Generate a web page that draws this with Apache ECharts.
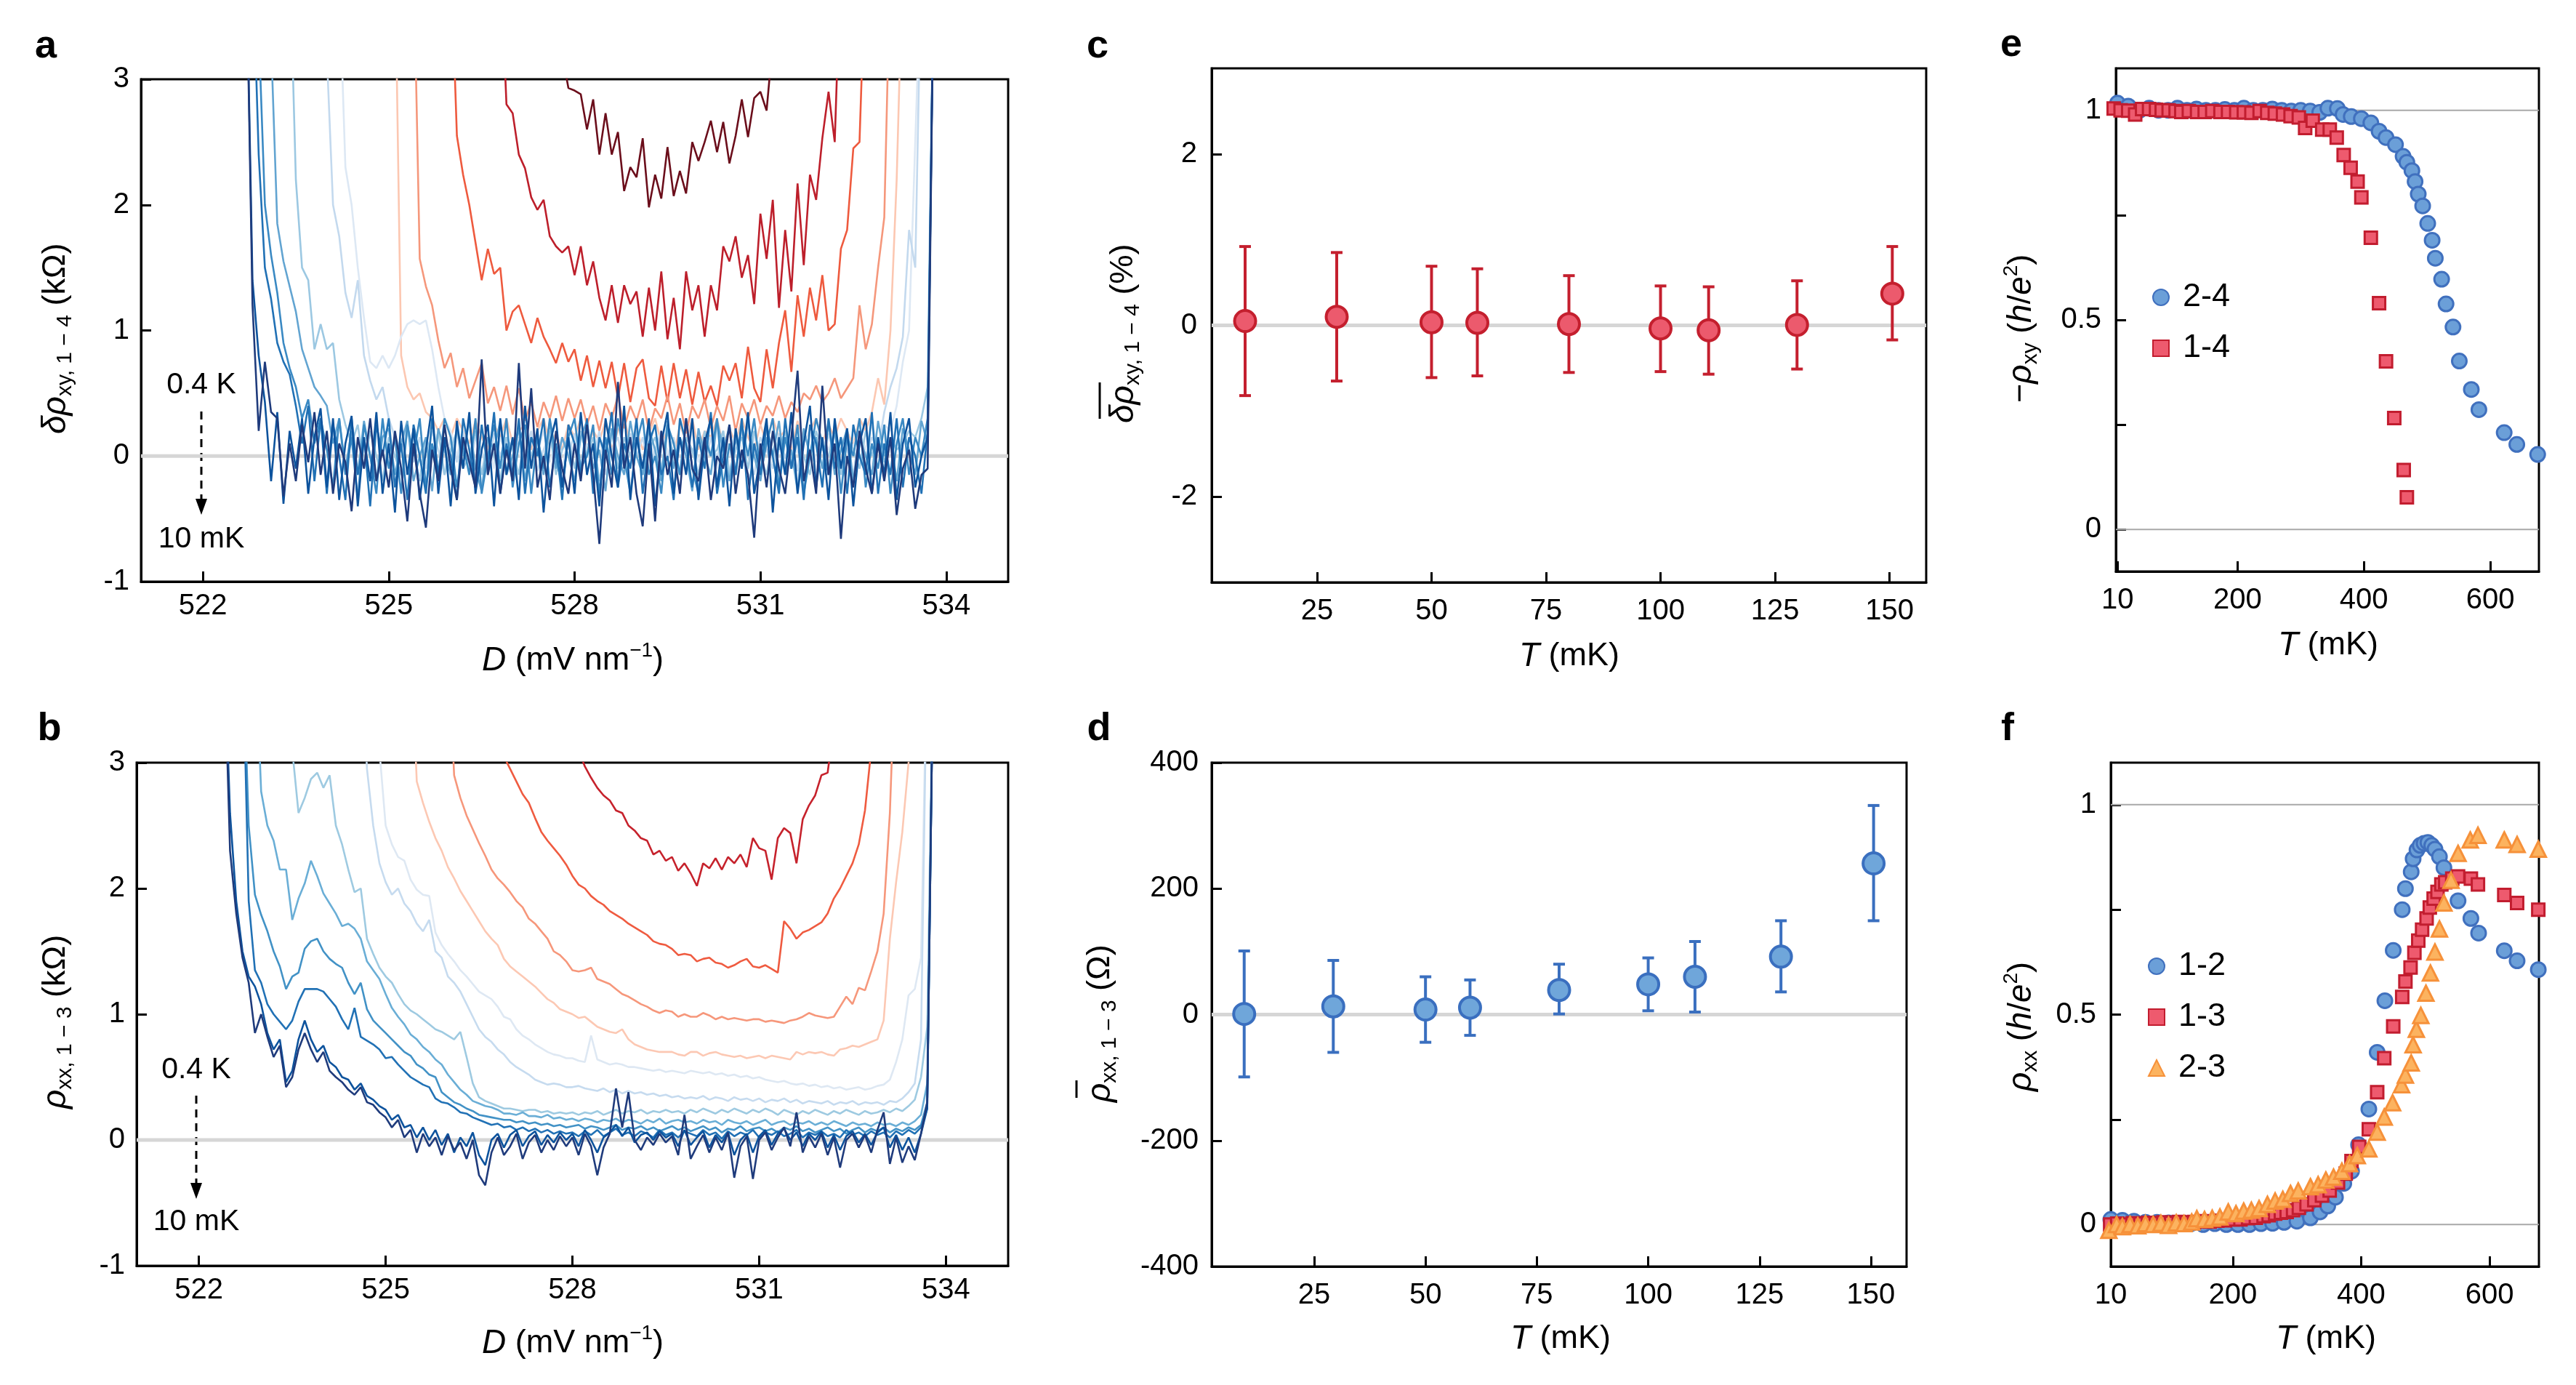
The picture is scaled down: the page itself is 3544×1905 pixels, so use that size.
<!DOCTYPE html>
<html>
<head>
<meta charset="utf-8">
<title>Transport vs D and T</title>
<script src="https://cdn.jsdelivr.net/npm/echarts@6/dist/echarts.min.js"></script>
<style>
html, body { margin: 0; padding: 0; background: #fff; }
#chart { width: 3544px; height: 1905px; }
</style>
</head>
<body>
<div id="chart"></div>
<script>
// displacement field grid (mV/nm), shared by panels a and b
const dGrid = [
  522.0,522.1,522.2,522.3,522.4,522.5,522.6,522.7,522.8,522.9,
  523.0,523.1,523.2,523.3,523.4,523.5,523.6,523.7,523.8,523.9,
  524.0,524.1,524.2,524.3,524.4,524.5,524.6,524.7,524.8,524.9,
  525.0,525.1,525.2,525.3,525.4,525.5,525.6,525.7,525.8,525.9,
  526.0,526.1,526.2,526.3,526.4,526.5,526.6,526.7,526.8,526.9,
  527.0,527.1,527.2,527.3,527.4,527.5,527.6,527.7,527.8,527.9,
  528.0,528.1,528.2,528.3,528.4,528.5,528.6,528.7,528.8,528.9,
  529.0,529.1,529.2,529.3,529.4,529.5,529.6,529.7,529.8,529.9,
  530.0,530.1,530.2,530.3,530.4,530.5,530.6,530.7,530.8,530.9,
  531.0,531.1,531.2,531.3,531.4,531.5,531.6,531.7,531.8,531.9,
  532.0,532.1,532.2,532.3,532.4,532.5,532.6,532.7,532.8,532.9,
  533.0,533.1,533.2,533.3,533.4,533.5,533.6,533.7,533.8,533.9,
  534.0
];

// ---- panel a: delta rho_xy (kOhm), values above 3 are off scale ----
const aMaroon = [
  4,4,4,4,4,4,4,4,4,4, 4,4,4,4,4,4,4,4,4,4, 4,4,4,4,4,4,4,4,4,4,
  4,4,4,4,4,4,4,4,4,4, 4,4,4,4,4,4,4,4,4,4,
  4,4,4,4,4,4,4,4,3.2,2.93,
  2.91,2.88,2.6,2.84,2.4,2.73,2.4,2.58,2.11,2.3,
  2.22,2.53,1.98,2.24,2.05,2.46,2.07,2.27,2.09,2.5,
  2.35,2.5,2.67,2.42,2.66,2.33,2.55,2.84,2.54,2.85,
  2.9,2.75,3.3,4,4,4,4,4,4,4,
  4,4,4,4,4,4,4,4,4,4, 4,4,4,4,4,4,4,4,4,4, 4
];
const aCrimson = [
  4,4,4,4,4,4,4,4,4,4, 4,4,4,4,4,4,4,4,4,4, 4,4,4,4,4,4,4,4,4,4,
  4,4,4,4,4,4,4,4,4,4,
  4,4,4,4,4,4,4,4,4,2.8,
  2.73,2.4,2.29,2.06,1.96,2.04,1.75,1.67,1.62,1.67,
  1.44,1.67,1.36,1.55,1.26,1.08,1.36,1.06,1.36,1.21,
  1.31,0.95,1.34,1.0,1.47,0.93,1.26,0.85,1.47,1.16,
  1.36,0.95,1.36,1.16,1.67,1.55,1.75,1.42,1.6,1.21,
  1.93,1.57,2.04,1.18,1.8,1.31,2.17,1.52,2.24,2.04,
  2.53,2.9,2.5,4,4,4,4,4,4,4,
  4,4,4,4,4,4,4,4,4,4, 4
];
const aOrange = [
  4,4,4,4,4,4,4,4,4,4, 4,4,4,4,4,4,4,4,4,4, 4,4,4,4,4,4,4,4,4,4,
  4,4,4,4,4,4,4,4,4,4,
  4,2.55,2.24,2.0,1.7,1.4,1.65,1.45,1.5,1.0,
  1.15,1.2,1.05,0.9,1.1,0.95,0.85,0.74,0.9,0.75,
  0.85,0.6,0.8,0.55,0.76,0.54,0.75,0.46,0.74,0.43,
  0.7,0.77,0.46,0.4,0.72,0.43,0.74,0.46,0.69,0.41,
  0.67,0.43,0.56,0.4,0.72,0.6,0.74,0.46,0.87,0.54,
  0.43,0.85,0.54,0.9,1.16,0.67,1.28,0.95,1.34,1.08,
  1.44,1.0,1.05,1.65,1.8,2.45,2.5,4,4,4,
  4,4,4,4,4,4,4,4,4,4, 4
];
const aSalmon = [
  4,4,4,4,4,4,4,4,4,4, 4,4,4,4,4,4,4,4,4,4, 4,4,4,4,4,4,4,4,4,4,
  4,4,4,4,4,1.57,1.35,1.2,0.92,0.7,
  0.82,0.55,0.7,0.46,0.6,0.74,0.42,0.55,0.36,0.56,
  0.33,0.54,0.28,0.43,0.23,0.43,0.3,0.48,0.28,0.46,
  0.3,0.45,0.25,0.4,0.2,0.42,0.3,0.48,0.22,0.4,
  0.28,0.45,0.2,0.38,0.3,0.48,0.25,0.42,0.18,0.4,
  0.3,0.45,0.22,0.4,0.28,0.48,0.2,0.42,0.3,0.45,
  0.25,0.4,0.32,0.48,0.3,0.43,0.35,0.5,0.45,0.56,
  0.43,0.5,0.62,0.46,0.54,0.62,1.2,0.85,1.05,1.5,
  1.9,4,4,4,4,4,4,4,4,4, 4
];
const aPink = [
  4,4,4,4,4,4,4,4,4,4, 4,4,4,4,4,4,4,4,4,4, 4,4,4,4,4,4,4,4,4,4,
  4,4,0.8,0.55,0.45,0.5,0.35,0.3,0.2,0.3,
  0.15,0.3,0.2,0.1,0.28,0.15,0.05,0.25,0.15,0.3,
  0.1,0.2,0.25,0.05,0.2,0.3,0.1,0.18,0.05,0.25,
  0.15,0.3,0.05,0.2,0.12,0.28,0.05,0.2,0.3,0.1,
  0.22,0.05,0.18,0.3,0.1,0.2,0.0,0.25,0.12,0.3,
  0.05,0.2,0.15,0.3,0.08,0.22,0.1,0.3,0.15,0.05,
  0.25,0.1,0.3,0.15,0.2,0.05,0.28,0.12,0.2,0.3,
  0.1,0.25,0.15,0.3,0.2,0.08,0.3,0.2,0.35,0.62,
  0.41,1.0,2.2,4,4,4,4,4,4,4, 4
];
const aBlue8 = [
  4,4,4,4,4,4,4,4,4,4, 4,4,4,4,4,4,4,4,4,4,
  4,4,3.8,2.3,2.0,1.5,1.1,0.75,0.7,0.8,
  0.7,0.8,0.95,1.05,1.08,1.05,1.08,0.85,0.55,0.3,
  0.2,0.0,0.2,-0.05,0.15,0.05,0.2,-0.1,0.15,0.0,
  0.15,0.05,-0.1,0.15,0.02,0.2,-0.05,0.1,-0.1,0.15,
  0.0,0.15,0.05,-0.12,0.15,0.02,0.2,-0.05,0.1,0.05,
  0.2,-0.1,0.15,0.0,0.15,0.05,-0.1,0.15,0.02,0.2,
  -0.05,0.1,0.15,-0.1,0.15,0.0,0.2,0.05,-0.12,0.15,
  0.05,0.2,-0.05,0.15,-0.1,0.15,0.02,0.12,0.2,-0.05,
  0.15,0.05,0.2,-0.1,0.15,0.08,0.2,0.05,0.25,0.1,
  0.25,0.2,0.4,0.75,1.0,2.5,4,4,4,4, 4
];
const aBlue7 = [
  4,4,4,4,4,4,4,4,4,4, 4,4,4,4,4,4,4,4,4,4,
  3.2,2.0,1.75,1.3,1.1,1.4,0.8,0.6,0.45,0.55,
  0.3,0.15,0.05,0.25,-0.05,0.15,-0.1,0.2,0.05,-0.15,
  0.15,-0.05,0.2,-0.1,0.15,0.05,-0.15,0.18,0.0,0.15,
  -0.1,0.15,0.02,0.2,-0.12,0.05,0.18,-0.1,0.15,0.0,
  0.18,-0.1,0.1,-0.02,0.2,-0.15,0.05,0.15,-0.1,0.18,
  0.0,0.15,-0.12,0.05,0.2,-0.02,0.15,-0.15,0.1,0.02,
  0.18,-0.1,0.15,-0.02,0.2,-0.12,0.05,0.15,0.0,-0.15,
  0.15,0.05,-0.1,0.18,-0.02,0.15,-0.12,0.2,0.02,0.15,
  -0.1,0.18,0.0,0.15,0.05,-0.15,0.2,0.0,0.15,0.05,
  0.35,0.55,0.7,0.95,1.8,1.5,4,4,4,4, 4
];
const aBlue6 = [
  4,4,4,4,4,4,4,4,4,4,
  4,4,4,4,4,2.2,1.5,1.4,0.85,1.05,
  0.85,0.9,0.45,0.25,0.1,0.25,-0.1,0.2,0.0,-0.2,
  0.15,0.0,-0.15,0.2,0.05,-0.2,0.15,0.0,0.2,-0.15,
  0.05,0.2,-0.1,0.0,0.2,-0.15,0.15,0.0,-0.2,0.15,
  0.05,-0.15,0.2,0.0,0.15,-0.1,0.2,-0.15,0.05,0.15,
  -0.1,0.2,0.0,0.15,-0.2,0.05,0.2,-0.1,0.15,0.0,
  0.2,-0.15,0.05,0.15,-0.1,0.2,0.0,-0.15,0.15,0.05,
  -0.15,0.2,0.0,0.05,0.2,-0.15,0.05,0.15,-0.1,0.2,
  0.0,-0.15,0.15,0.05,0.2,-0.1,0.15,0.0,-0.15,0.2,
  0.05,0.0,0.2,-0.15,0.15,0.05,-0.1,0.2,0.0,0.15,
  -0.05,0.15,0.05,0.1,0.2,0.15,0.3,0.55,4,4, 4
];
const aBlue5 = [
  4,4,4,4,4,4,4,4,4,4,
  4,3.3,1.85,1.55,1.35,1.15,0.85,0.7,0.55,0.48,
  0.4,0.1,0.3,-0.1,0.2,-0.15,0.28,0.0,-0.2,0.15,
  0.22,-0.15,0.1,0.28,-0.2,0.0,0.15,-0.28,0.22,0.05,
  -0.15,0.22,0.0,0.28,-0.1,-0.28,0.15,0.05,0.28,-0.15,
  0.0,0.22,-0.2,0.15,0.05,-0.15,0.28,-0.1,0.15,0.0,
  -0.2,0.15,0.28,-0.1,0.05,-0.28,0.22,0.0,-0.15,0.28,
  0.0,-0.15,0.22,0.05,-0.2,0.28,-0.1,0.15,0.0,-0.28,
  0.22,0.0,-0.15,0.28,0.05,-0.2,0.15,-0.1,0.28,0.0,
  -0.2,0.15,0.0,0.28,-0.15,0.05,-0.28,0.22,0.0,0.15,
  -0.1,0.28,-0.15,0.05,0.22,-0.2,0.15,0.0,-0.15,0.28,
  0.0,0.15,-0.2,0.22,0.05,-0.15,0.28,0.1,4,4, 4
];
const aBlue4 = [
  4,4,4,4,4,4,4,4,4,3.4,
  2.0,1.6,1.3,0.9,0.7,0.55,0.3,0.45,0.1,0.3,
  0.05,-0.25,0.3,-0.15,0.15,-0.35,0.25,0.0,-0.3,0.3,
  -0.1,0.15,-0.3,0.25,0.0,0.3,-0.25,0.1,-0.15,0.3,
  0.15,-0.25,0.1,-0.15,0.3,-0.3,0.0,0.25,-0.1,0.3,
  -0.25,0.1,0.25,-0.3,0.15,-0.1,0.3,0.0,-0.25,0.15,
  0.3,-0.1,0.0,0.25,-0.3,0.15,-0.15,0.3,0.0,-0.3,
  0.1,0.3,-0.15,0.0,-0.3,0.25,0.1,-0.15,0.3,-0.1,
  -0.3,0.15,0.0,0.3,-0.25,0.1,-0.15,0.25,0.0,0.3,
  -0.15,0.1,0.3,-0.25,0.15,-0.1,0.25,-0.3,0.0,0.3,
  0.1,-0.15,0.25,-0.3,0.15,0.0,0.3,-0.25,0.1,-0.1,
  0.25,-0.3,0.1,0.3,-0.15,0.15,0.0,0.3,4,4, 4
];
const aBlue3 = [
  4,4,4,4,4,4,4,4,4,2.4,
  1.5,1.25,0.9,0.75,0.65,0.4,0.1,0.4,-0.2,0.3,
  -0.3,0.25,0.0,-0.35,0.3,-0.15,0.15,-0.4,0.25,0.0,
  0.3,-0.25,0.1,-0.35,0.25,0.0,-0.3,0.3,-0.15,0.15,
  0.0,-0.35,0.3,0.05,-0.25,0.25,-0.1,0.35,-0.3,0.1,
  -0.15,0.3,-0.3,0.15,0.0,0.3,-0.25,0.1,-0.35,0.25,
  0.1,-0.15,0.3,-0.3,0.15,0.0,0.35,-0.25,0.1,-0.1,
  0.3,-0.3,0.1,0.25,-0.15,0.0,-0.35,0.3,0.1,-0.25,
  0.15,-0.1,0.35,-0.3,0.0,0.25,-0.15,0.3,-0.35,0.1,
  -0.15,0.25,0.0,-0.3,0.3,-0.1,0.15,-0.35,0.25,0.1,
  -0.25,0.3,-0.1,0.15,-0.3,0.25,0.0,-0.15,0.35,-0.3,
  0.1,-0.15,0.3,-0.25,0.15,0.0,-0.3,0.2,4,4, 4
];
const aBlue2 = [
  4,4,4,4,4,4,4,4,1.4,0.8,
  0.43,-0.2,0.35,-0.38,0.2,-0.1,0.3,-0.3,0.15,0.38,
  -0.25,0.3,-0.35,0.1,0.32,-0.4,0.15,-0.2,0.35,-0.3,
  0.1,-0.45,0.28,-0.15,0.22,-0.35,0.05,0.4,-0.3,0.15,
  -0.4,0.28,-0.1,0.35,-0.3,0.05,0.25,-0.4,0.3,-0.15,
  0.15,-0.35,0.4,-0.1,0.22,-0.45,0.1,0.3,-0.25,0.15,
  -0.3,0.35,-0.15,0.1,-0.4,0.3,0.0,-0.25,0.4,-0.35,
  0.15,-0.1,0.3,-0.4,0.1,0.35,-0.3,0.15,-0.15,0.3,
  -0.35,0.1,0.3,-0.25,0.15,-0.4,0.22,-0.1,0.35,-0.3,
  0.0,0.3,-0.45,0.15,-0.15,0.35,-0.3,0.1,0.4,-0.25,
  0.15,-0.35,0.3,-0.1,0.22,-0.4,0.1,0.3,-0.3,0.15,
  -0.15,0.35,-0.35,0.1,0.3,-0.25,0.0,0.15,4,4, 4
];
const aNavy = [
  4,4,4,4,4,4,4,4,1.2,0.2,
  0.75,0.35,0.3,-0.32,0.1,-0.2,0.25,-0.05,0.35,-0.15,
  0.2,-0.3,0.1,-0.05,-0.44,0.15,-0.1,0.3,-0.2,0.05,
  -0.25,0.2,-0.1,-0.52,0.1,-0.3,-0.57,0.05,-0.2,0.25,
  -0.1,-0.35,0.15,-0.05,-0.25,0.77,-0.15,0.1,-0.3,0.05,
  -0.2,0.74,-0.1,0.54,-0.25,0.0,-0.35,0.2,-0.1,-0.3,
  0.1,-0.2,0.25,-0.15,-0.7,0.05,-0.25,0.59,-0.1,0.15,
  -0.3,-0.56,0.1,-0.52,0.2,-0.15,0.05,-0.3,0.3,-0.1,
  -0.2,0.15,-0.35,0.0,-0.1,0.25,-0.3,0.05,-0.15,-0.65,
  0.1,-0.25,0.2,-0.1,-0.3,0.15,0.68,-0.2,0.05,-0.3,
  0.56,-0.15,0.1,-0.66,0.0,-0.25,0.2,-0.1,-0.3,0.1,
  -0.2,0.15,-0.47,-0.1,0.05,-0.42,-0.15,-0.1,4,4, 4
];

// ---- panel b: rho_xx (kOhm) ----
const bCrimson = [
  4,4,4,4,4,4,4,4,4,4, 4,4,4,4,4,4,4,4,4,4, 4,4,4,4,4,4,4,4,4,4,
  4,4,4,4,4,4,4,4,4,4, 4,4,4,4,4,4,4,4,4,4, 4,4,4,4,4,4,4,4,4,4,
  4,3.1,2.97,2.88,2.8,2.74,2.7,2.62,2.6,2.5,
  2.46,2.4,2.38,2.27,2.3,2.22,2.25,2.14,2.2,2.12,
  2.02,2.2,2.16,2.24,2.15,2.25,2.2,2.27,2.17,2.4,
  2.32,2.3,2.07,2.4,2.48,2.44,2.2,2.55,2.66,2.74,
  2.9,2.92,3.3,4,4,4,4,4,4,4,
  4,4,4,4,4,4,4,4,4,4, 4
];
const bOrange = [
  4,4,4,4,4,4,4,4,4,4, 4,4,4,4,4,4,4,4,4,4, 4,4,4,4,4,4,4,4,4,4,
  4,4,4,4,4,4,4,4,4,4,
  4,4,4,4,4,4,4,4,4,3.05,
  2.95,2.85,2.75,2.68,2.56,2.45,2.38,2.32,2.26,2.19,
  2.1,2.03,2.0,1.94,1.9,1.87,1.82,1.79,1.76,1.72,
  1.69,1.66,1.63,1.58,1.56,1.55,1.52,1.47,1.48,1.47,
  1.42,1.44,1.45,1.41,1.4,1.37,1.39,1.42,1.44,1.38,
  1.37,1.39,1.36,1.33,1.74,1.68,1.6,1.65,1.67,1.7,
  1.73,1.8,1.92,2.0,2.1,2.2,2.35,2.62,3.1,4,
  4,4,4,4,4,4,4,4,4,4, 4
];
const bSalmon = [
  4,4,4,4,4,4,4,4,4,4, 4,4,4,4,4,4,4,4,4,4, 4,4,4,4,4,4,4,4,4,4,
  4,4,4,4,4,4,4,4,4,4,
  4,2.9,2.72,2.58,2.47,2.36,2.26,2.15,2.08,2.03,
  1.97,1.9,1.85,1.76,1.72,1.66,1.6,1.5,1.47,1.42,
  1.35,1.34,1.35,1.37,1.28,1.26,1.24,1.2,1.16,1.14,
  1.11,1.08,1.06,1.03,1.01,1.03,1.02,0.98,1.0,0.98,
  0.98,1.01,0.99,0.96,0.98,0.96,0.97,0.96,0.95,0.96,
  0.96,0.94,0.95,0.94,0.93,0.95,0.96,0.98,1.01,0.99,
  0.98,0.97,0.98,1.06,1.14,1.08,1.21,1.19,1.34,1.5,
  1.8,2.6,4,4,4,4,4,4,4,4, 4
];
const bPink = [
  4,4,4,4,4,4,4,4,4,4, 4,4,4,4,4,4,4,4,4,4, 4,4,4,4,4,4,4,4,4,4,
  4,4,4,4,4,2.85,2.68,2.53,2.4,2.3,
  2.17,2.08,1.98,1.9,1.82,1.74,1.66,1.6,1.55,1.44,
  1.38,1.34,1.3,1.26,1.22,1.17,1.12,1.09,1.04,1.02,
  1.0,0.97,0.98,0.94,0.9,0.88,0.86,0.85,0.88,0.8,
  0.76,0.74,0.72,0.71,0.7,0.7,0.7,0.68,0.67,0.7,
  0.7,0.67,0.69,0.7,0.68,0.67,0.66,0.67,0.65,0.66,
  0.67,0.65,0.67,0.66,0.65,0.64,0.7,0.68,0.7,0.69,
  0.7,0.68,0.67,0.72,0.73,0.75,0.74,0.76,0.78,0.8,
  0.95,1.6,2.05,2.45,3.0,4,4,4,4,4, 4
];
const bBlue8 = [
  4,4,4,4,4,4,4,4,4,4, 4,4,4,4,4,4,4,4,4,4,
  4,4,4,4,4,4,4,4,4,3.1,
  2.5,2.35,2.25,2.22,2.07,1.99,1.95,1.94,1.65,1.55,
  1.48,1.42,1.35,1.3,1.24,1.18,1.15,1.12,1.06,0.98,
  0.96,0.88,0.83,0.8,0.76,0.73,0.7,0.68,0.67,0.65,
  0.65,0.63,0.62,0.83,0.64,0.62,0.6,0.61,0.6,0.58,
  0.58,0.57,0.56,0.55,0.56,0.54,0.55,0.54,0.53,0.55,
  0.54,0.53,0.54,0.52,0.53,0.51,0.52,0.5,0.51,0.49,
  0.5,0.48,0.47,0.46,0.47,0.45,0.44,0.45,0.43,0.44,
  0.42,0.43,0.41,0.42,0.4,0.41,0.42,0.4,0.41,0.43,
  0.44,0.48,0.62,0.8,1.15,1.2,1.45,4,4,4, 4
];
const bBlue7 = [
  4,4,4,4,4,4,4,4,4,4, 4,4,4,4,4,4,4,4,4,4,
  4,4,4,4,4,4,4,2.95,2.5,2.2,
  2.05,1.95,2.0,1.88,1.82,1.72,1.66,1.75,1.5,1.45,
  1.3,1.25,1.18,1.08,0.98,0.88,0.82,0.78,0.72,0.68,
  0.62,0.58,0.55,0.52,0.48,0.46,0.44,0.45,0.44,0.42,
  0.42,0.43,0.41,0.4,0.39,0.41,0.38,0.4,0.37,0.39,
  0.37,0.38,0.36,0.37,0.35,0.36,0.34,0.35,0.33,0.34,
  0.33,0.35,0.32,0.34,0.33,0.31,0.34,0.32,0.33,0.31,
  0.33,0.3,0.32,0.31,0.33,0.3,0.32,0.29,0.31,0.3,
  0.29,0.31,0.28,0.3,0.29,0.31,0.28,0.3,0.29,0.3,
  0.28,0.31,0.3,0.33,0.38,0.45,0.8,4,4,4, 4
];
const bBlue6 = [
  4,4,4,4,4,4,4,4,4,4,
  4,4,4,4,4,3.1,2.6,2.72,2.87,2.92,
  2.8,2.9,2.5,2.35,2.15,1.97,2.0,1.6,1.48,1.37,
  1.3,1.25,1.16,1.08,1.03,1.0,0.96,0.92,0.88,0.86,
  0.83,0.8,0.86,0.66,0.45,0.34,0.31,0.29,0.27,0.25,
  0.25,0.24,0.23,0.24,0.24,0.22,0.23,0.21,0.22,0.21,
  0.22,0.2,0.22,0.21,0.23,0.2,0.22,0.24,0.21,0.23,
  0.22,0.24,0.21,0.23,0.22,0.24,0.22,0.23,0.21,0.24,
  0.22,0.25,0.23,0.21,0.24,0.22,0.25,0.23,0.21,0.24,
  0.22,0.25,0.23,0.2,0.24,0.22,0.2,0.23,0.21,0.24,
  0.22,0.2,0.23,0.21,0.24,0.22,0.2,0.23,0.21,0.22,
  0.24,0.22,0.25,0.23,0.27,0.32,0.5,0.9,4,4, 4
];
const bBlue5 = [
  4,4,4,4,4,4,4,4,4,4,
  2.77,2.5,2.38,2.15,2.15,1.75,1.92,2.04,2.22,2.1,
  1.96,1.88,1.8,1.7,1.72,1.68,1.6,1.42,1.35,1.28,
  1.16,1.05,0.98,0.92,0.84,0.8,0.74,0.7,0.64,0.6,
  0.52,0.46,0.4,0.36,0.31,0.29,0.27,0.26,0.24,0.21,
  0.21,0.2,0.22,0.19,0.19,0.18,0.2,0.17,0.18,0.16,
  0.17,0.15,0.17,0.16,0.14,0.16,0.15,0.17,0.14,0.16,
  0.15,0.13,0.16,0.14,0.17,0.13,0.15,0.16,0.14,0.15,
  0.13,0.16,0.14,0.15,0.12,0.16,0.14,0.13,0.15,0.12,
  0.14,0.16,0.12,0.14,0.15,0.12,0.14,0.13,0.15,0.12,
  0.14,0.12,0.15,0.13,0.11,0.14,0.12,0.13,0.11,0.14,
  0.12,0.13,0.11,0.14,0.12,0.15,0.2,0.45,4,4, 4
];
const bBlue4 = [
  4,4,4,4,4,4,4,4,2.5,1.95,
  1.79,1.66,1.5,1.38,1.2,1.3,1.33,1.52,1.58,1.6,
  1.5,1.44,1.4,1.37,1.25,1.16,1.25,1.04,0.95,0.9,
  0.85,0.8,0.75,0.7,0.67,0.6,0.57,0.52,0.5,0.38,
  0.34,0.3,0.28,0.25,0.23,0.2,0.19,0.18,0.17,0.16,
  0.16,0.14,0.15,0.13,0.14,0.12,0.13,0.11,0.12,0.1,
  0.11,0.12,0.09,0.11,0.1,0.08,0.1,0.12,0.08,0.1,
  0.09,0.11,0.08,0.1,0.07,0.09,0.11,0.08,0.1,0.07,
  0.09,0.11,0.08,0.1,0.06,0.09,0.08,0.11,0.07,0.09,
  0.1,0.07,0.09,0.06,0.1,0.08,0.11,0.07,0.09,0.06,
  0.08,0.1,0.07,0.09,0.05,0.08,0.1,0.06,0.09,0.07,
  0.1,0.06,0.09,0.07,0.1,0.08,0.12,0.3,4,4, 4
];
const bBlue3 = [
  4,4,4,4,4,4,4,4,1.9,1.35,
  1.25,1.08,1.0,0.94,0.88,0.95,1.1,1.2,1.2,1.2,
  1.18,1.12,1.06,0.96,0.88,1.05,0.82,0.79,0.76,0.72,
  0.65,0.66,0.6,0.55,0.5,0.47,0.44,0.42,0.33,0.3,
  0.29,0.26,0.22,0.21,0.18,0.16,0.14,0.12,0.13,0.1,
  0.11,0.08,0.1,0.07,0.09,0.06,0.08,0.05,0.07,0.05,
  0.06,0.03,0.07,0.04,0.08,0.03,0.06,0.09,0.04,0.06,
  0.03,0.07,0.05,0.02,0.08,0.04,0.06,0.02,0.07,0.05,
  0.03,0.08,0.04,0.06,0.01,0.07,0.03,0.06,0.04,0.08,
  0.02,0.06,0.04,0.07,0.03,0.05,0.08,0.02,0.06,0.04,
  0.07,0.03,0.05,0.02,0.08,0.04,0.06,0.03,0.07,0.04,
  0.06,0.02,0.07,0.04,0.08,0.05,0.1,0.25,4,4, 4
];
const bBlue2 = [
  4,4,4,4,4,2.6,1.9,1.5,1.3,1.22,
  1.08,0.85,0.72,0.8,0.46,0.55,0.8,0.95,0.8,0.7,
  0.75,0.62,0.58,0.5,0.48,0.4,0.45,0.35,0.32,0.27,
  0.24,0.16,0.2,0.1,0.12,0.02,0.1,0.0,0.08,-0.04,
  0.05,-0.1,0.02,-0.05,0.06,-0.12,-0.2,0.0,0.05,-0.06,
  0.04,0.08,-0.05,0.03,0.07,-0.04,0.04,-0.02,0.06,0.0,
  0.05,-0.05,0.08,0.0,-0.1,0.02,0.06,0.12,0.03,0.1,
  -0.02,0.04,0.06,0.0,0.07,0.02,0.05,-0.05,0.08,-0.04,
  0.02,0.07,-0.06,0.04,-0.02,0.06,-0.12,0.0,0.05,-0.1,
  0.03,0.08,-0.04,0.05,0.09,0.0,0.06,-0.05,0.05,0.0,
  0.07,-0.06,0.04,-0.08,0.03,0.07,-0.02,0.05,-0.04,0.06,
  0.1,-0.06,0.04,-0.08,0.02,-0.1,0.05,0.25,4,4, 4
];
const bNavy = [
  4,4,4,4,4,2.3,1.8,1.45,1.25,0.85,
  1.0,0.82,0.66,0.75,0.42,0.5,0.72,0.85,0.72,0.62,
  0.7,0.55,0.5,0.46,0.4,0.36,0.42,0.3,0.28,0.22,
  0.18,0.1,0.16,0.02,0.08,-0.1,0.05,-0.05,0.02,-0.12,
  0.03,-0.08,-0.02,-0.15,0.0,-0.28,-0.36,-0.1,0.02,-0.12,
  -0.05,0.05,-0.15,-0.02,0.04,-0.1,0.0,-0.08,0.03,-0.05,
  0.02,-0.12,0.05,-0.05,-0.28,-0.06,0.05,0.41,0.1,0.38,
  0.0,-0.08,0.02,-0.04,0.05,-0.02,0.03,-0.12,0.2,-0.15,
  -0.05,0.04,-0.1,0.02,-0.08,0.06,-0.3,-0.05,0.03,-0.31,
  0.0,0.06,-0.08,0.02,0.1,-0.05,0.22,-0.1,0.03,-0.06,
  0.05,-0.12,0.02,-0.22,0.0,0.05,-0.06,0.04,-0.1,0.08,
  0.22,-0.19,0.02,-0.18,-0.05,-0.16,0.05,0.3,4,4, 4
];

// ---- panels c, d: averages vs temperature ----
const cdTemps = [9.3, 29.3, 50, 60, 80, 100, 110.5, 129.8, 150.6];
const cMean = [0.05, 0.10, 0.036, 0.03, 0.015, -0.036, -0.057, 0.005, 0.37];
const cLow  = [-0.82, -0.65, -0.61, -0.59, -0.55, -0.54, -0.57, -0.51, -0.17];
const cHigh = [0.92, 0.85, 0.69, 0.66, 0.58, 0.46, 0.45, 0.52, 0.92];
const dMean = [1, 13, 8, 11, 39, 48, 60, 92, 240];
const dLow  = [-99, -60, -44, -33, 1, 6, 4, 36, 149];
const dHigh = [101, 86, 60, 55, 80, 90, 116, 149, 332];

// ---- panel e: -rho_xy (h/e^2) ----
const eT24 = [10, 27, 45, 60, 75, 90, 105, 120, 135, 150, 165, 180, 195, 210, 225, 240, 255, 270, 285, 300,
  315, 330, 343, 358, 367, 380, 396, 411, 424, 435, 450, 462, 468, 476, 481, 486, 493, 501, 508, 513,
  523, 530, 541, 551, 570, 582, 622, 642, 675];
const eY24 = [1.017, 1.01, 1.0, 1.005, 1.0, 1.0, 1.005, 1.0, 1.003, 1.0, 1.0, 1.002, 1.0, 1.005, 1.0, 1.0, 1.003, 1.0, 0.998, 1.0,
  0.998, 0.995, 1.005, 1.004, 0.99, 0.985, 0.98, 0.97, 0.95, 0.935, 0.918, 0.89, 0.876, 0.856, 0.83, 0.80, 0.772, 0.73, 0.69, 0.647,
  0.597, 0.538, 0.483, 0.402, 0.334, 0.286, 0.231, 0.203, 0.179];
const eT14 = [4, 15, 27, 38, 49, 60, 71, 80, 91, 102, 111, 123, 136, 148, 160, 173, 185, 198, 210, 222,
  235, 247, 259, 272, 284, 297, 307, 319, 334, 346, 357, 368, 379, 390, 396, 411, 424, 435, 448, 463, 468];
const eY14 = [1.004, 1.0, 0.999, 0.99, 1.003, 1.003, 1.001, 1.0, 1.0, 0.998, 0.996, 0.998, 0.996, 0.996, 0.998, 0.996, 0.996, 0.995, 0.995, 0.994,
  0.998, 0.994, 0.992, 0.99, 0.986, 0.983, 0.958, 0.975, 0.954, 0.954, 0.935, 0.893, 0.863, 0.83, 0.792, 0.696, 0.54, 0.401, 0.266, 0.142, 0.077];

// ---- panel f: rho_xx (h/e^2) ----
const fT12 = [10, 28, 46, 64, 82, 100, 118, 136, 154, 172, 190, 208, 226, 244, 262, 280, 300, 321, 336, 348,
  360, 373, 385, 396, 412, 425, 437, 450, 464, 469, 478, 481, 487, 492, 498, 504, 510, 515, 522, 529,
  551, 571, 583, 623, 643, 676];
const fY12 = [0.012, 0.01, 0.008, 0.005, 0.005, 0.004, 0.003, 0.003, 0.0, 0.002, 0.0, 0.0, 0.0, 0.002, 0.003, 0.005, 0.008, 0.016, 0.03, 0.044,
  0.065, 0.098, 0.127, 0.19, 0.275, 0.41, 0.533, 0.653, 0.75, 0.80, 0.84, 0.871, 0.892, 0.903, 0.908, 0.91, 0.903, 0.894, 0.876, 0.85,
  0.771, 0.729, 0.694, 0.652, 0.628, 0.607];
const fT13 = [9, 20, 32, 44, 56, 68, 80, 92, 104, 116, 128, 140, 152, 164, 176, 188, 200, 212, 224, 236,
  248, 256, 266, 275, 284, 294, 303, 315, 327, 339, 351, 364, 376, 385, 397, 412, 425, 436, 450, 464,
  469, 477, 483, 489, 495, 502, 507, 513, 519, 525, 531, 542, 551, 571, 582, 623, 643, 676];
const fY13 = [0.0, 0.002, 0.0, 0.003, 0.002, 0.004, 0.003, 0.005, 0.004, 0.006, 0.005, 0.006, 0.008, 0.007, 0.009, 0.01, 0.012, 0.012, 0.015, 0.016,
  0.02, 0.022, 0.026, 0.028, 0.03, 0.034, 0.04, 0.048, 0.058, 0.069, 0.081, 0.1, 0.121, 0.151, 0.185, 0.227, 0.315, 0.396, 0.472, 0.542,
  0.579, 0.612, 0.647, 0.676, 0.702, 0.729, 0.755, 0.776, 0.792, 0.81, 0.815, 0.824, 0.829, 0.824, 0.81, 0.785, 0.766, 0.75];
const fT23 = [7, 19, 28, 40, 52, 64, 76, 88, 100, 112, 124, 136, 144, 156, 168, 180, 193, 205, 217, 229,
  241, 254, 266, 278, 290, 302, 321, 333, 345, 357, 370, 382, 394, 412, 425, 436, 449, 463, 469, 478,
  481, 486, 493, 501, 508, 515, 522, 529, 540, 551, 570, 582, 623, 643, 676];
const fY23 = [-0.014, 0.0, -0.005, 0.0, -0.003, 0.002, 0.0, 0.003, -0.002, 0.004, 0.002, 0.006, 0.014, 0.012, 0.015, 0.018, 0.03, 0.026, 0.032, 0.034,
  0.038, 0.048, 0.056, 0.06, 0.074, 0.08, 0.09, 0.095, 0.106, 0.113, 0.127, 0.145, 0.164, 0.18, 0.22, 0.256, 0.29, 0.333, 0.356, 0.385,
  0.428, 0.465, 0.498, 0.551, 0.599, 0.649, 0.704, 0.766, 0.82, 0.884, 0.916, 0.927, 0.916, 0.905, 0.894];

// axis ranges and ticks
const dRange = [521, 535];
const dTicks = [522, 525, 528, 531, 534];
const kTicks = [-1, 0, 1, 2, 3];
const tRange = [2, 158];
const tTicks = [25, 50, 75, 100, 125, 150];
const cTicks = [-2, 0, 2];
const dOhmTicks = [-400, -200, 0, 200, 400];
const eRange = [7.5, 677];
const fRange = [10, 677];
const heTicks = [10, 200, 400, 600];
const hYTicks = [0, 0.25, 0.5, 0.75, 1];
const hYLabels = [0, 0.5, 1];

const FONT = "'Liberation Sans', Arial, Helvetica, sans-serif";

const chart = echarts.init(document.getElementById('chart'), null, { renderer: 'canvas', width: 3544, height: 1905 });

function mkGrid(left, top, width, height) {
  return { left, top, width, height, show: true, borderColor: '#000', borderWidth: 3,
    backgroundColor: 'transparent', containLabel: false, outerBoundsMode: 'none' };
}

function mkAxis(grid, range, ticks, labels, margin) {
  return {
    type: 'value', gridIndex: grid, min: range[0], max: range[1],
    axisLine: { show: true, onZero: false, lineStyle: { color: '#000', width: 3 } },
    axisTick: { show: true, inside: true, length: 14, lineStyle: { color: '#000', width: 3 }, customValues: ticks },
    axisLabel: { show: true, customValues: labels, fontSize: 40, fontFamily: FONT, color: '#000', margin },
    splitLine: { show: false }
  };
}

function traceSeries(vals, color, idx) {
  return {
    type: 'line', xAxisIndex: idx, yAxisIndex: idx,
    data: dGrid.map((d, i) => [d, vals[i]]),
    showSymbol: false, symbol: 'none', clip: true, silent: true, z: 3,
    lineStyle: { color, width: 2.6 }
  };
}

function hLine(idx, range, y, color, width) {
  return {
    type: 'line', xAxisIndex: idx, yAxisIndex: idx,
    data: [[range[0], y], [range[1], y]],
    showSymbol: false, symbol: 'none', silent: true, z: 1,
    lineStyle: { color, width }
  };
}

function errSeries(idx, lo, hi, color) {
  return {
    type: 'custom', xAxisIndex: idx, yAxisIndex: idx, z: 3, silent: true,
    data: cdTemps.map((t, i) => [t, lo[i], hi[i]]),
    encode: { x: 0, y: [1, 2] },
    renderItem: function (params, api) {
      const x = api.value(0);
      const p1 = api.coord([x, api.value(1)]);
      const p2 = api.coord([x, api.value(2)]);
      const w = 8;
      const st = { stroke: color, lineWidth: 4 };
      return { type: 'group', children: [
        { type: 'line', shape: { x1: p1[0], y1: p1[1], x2: p2[0], y2: p2[1] }, style: st },
        { type: 'line', shape: { x1: p1[0] - w, y1: p1[1], x2: p1[0] + w, y2: p1[1] }, style: st },
        { type: 'line', shape: { x1: p2[0] - w, y1: p2[1], x2: p2[0] + w, y2: p2[1] }, style: st }
      ] };
    }
  };
}

function meanSeries(idx, vals, fill, border) {
  return {
    type: 'scatter', xAxisIndex: idx, yAxisIndex: idx, z: 4, silent: true,
    data: cdTemps.map((t, i) => [t, vals[i]]),
    symbol: 'circle', symbolSize: 29,
    itemStyle: { color: fill, borderColor: border, borderWidth: 4, opacity: 1 }
  };
}

function dotSeries(name, idx, xs, ys, symbol, size, fill, border) {
  return {
    name, type: 'scatter', xAxisIndex: idx, yAxisIndex: idx, z: 4, clip: false, silent: true,
    data: xs.map((x, i) => [x, ys[i]]),
    symbol, symbolSize: size,
    itemStyle: { color: fill, borderColor: border, borderWidth: 3, opacity: 1 }
  };
}

const rich = {
  i: { fontFamily: FONT, fontStyle: 'italic', fontSize: 46, lineHeight: 56, fill: '#000', color: '#000' },
  n: { fontFamily: FONT, fontSize: 45, lineHeight: 56, fill: '#000', color: '#000' },
  s: { fontFamily: FONT, fontSize: 30, lineHeight: 30, verticalAlign: 'bottom', fill: '#000', color: '#000' },
  p: { fontFamily: FONT, fontSize: 28, lineHeight: 28, verticalAlign: 'top', fill: '#000', color: '#000' }
};

function yTitle(x, y, text, barLen) {
  const children = [{ type: 'text', x: 0, y: 0, style: { text, rich, align: 'left', verticalAlign: 'middle', fill: '#000' } }];
  if (barLen) {
    children.push({ type: 'line', shape: { x1: 6, y1: -33, x2: 6 + barLen, y2: -33 }, style: { stroke: '#000', lineWidth: 3 } });
  }
  return { type: 'group', x, y, rotation: Math.PI / 2, children };
}

function xTitle(x, y, text) {
  return { type: 'text', x, y, style: { text, rich, align: 'center', verticalAlign: 'middle', fill: '#000' } };
}

function letter(x, y, t) {
  return { type: 'text', x, y, style: { text: t, fontFamily: FONT, fontWeight: 'bold', fontSize: 54, fill: '#000', align: 'center', verticalAlign: 'middle' } };
}

function tempArrow(x, yTop, yBottom, yHi, yLo) {
  return [
    { type: 'text', x, y: yTop, style: { text: '0.4 K', fontFamily: FONT, fontSize: 41, fill: '#000', align: 'center', verticalAlign: 'middle' } },
    { type: 'line', shape: { x1: x, y1: yHi, x2: x, y2: yLo - 12 }, style: { stroke: '#000', lineWidth: 3, lineDash: [11, 8] } },
    { type: 'polygon', shape: { points: [[x, yLo + 2], [x - 8, yLo - 20], [x + 8, yLo - 20]] }, style: { fill: '#000' } },
    { type: 'text', x, y: yBottom, style: { text: '10 mK', fontFamily: FONT, fontSize: 41, fill: '#000', align: 'center', verticalAlign: 'middle' } }
  ];
}

const aTraces = [
  [aMaroon, '#6b0e1b'], [aCrimson, '#bd1f2b'], [aOrange, '#ee5a3e'], [aSalmon, '#f5977b'], [aPink, '#fcc7b1'],
  [aBlue8, '#dde8f4'], [aBlue7, '#c3d9ee'], [aBlue6, '#9cc8e2'], [aBlue5, '#62a4d1'], [aBlue4, '#3a89c3'],
  [aBlue3, '#2171b5'], [aBlue2, '#0d539d'], [aNavy, '#1f3b7c']
];
const bTraces = [
  [bCrimson, '#c6222c'], [bOrange, '#ef5b40'], [bSalmon, '#f6977b'], [bPink, '#fcc8b3'],
  [bBlue8, '#dee8f3'], [bBlue7, '#c6dbef'], [bBlue6, '#9ecae1'], [bBlue5, '#6aaed6'], [bBlue4, '#4292c6'],
  [bBlue3, '#2171b5'], [bBlue2, '#0d539d'], [bNavy, '#1f3b7c']
];

const series = [
  hLine(0, dRange, 0, '#d6d6d6', 5),
  hLine(1, dRange, 0, '#d6d6d6', 5),
  hLine(2, tRange, 0, '#d6d6d6', 5),
  hLine(3, tRange, 0, '#d6d6d6', 5),
  hLine(4, eRange, 0, '#a8a8a8', 2),
  hLine(4, eRange, 1, '#a8a8a8', 2),
  hLine(5, fRange, 0, '#a8a8a8', 2),
  hLine(5, fRange, 1, '#a8a8a8', 2)
];
aTraces.forEach(t => series.push(traceSeries(t[0], t[1], 0)));
bTraces.forEach(t => series.push(traceSeries(t[0], t[1], 1)));
series.push(errSeries(2, cLow, cHigh, '#c41f2e'));
series.push(meanSeries(2, cMean, '#ec5a6d', '#c41f2e'));
series.push(errSeries(3, dLow, dHigh, '#3a6fbf'));
series.push(meanSeries(3, dMean, '#6fa6da', '#3a6fbf'));
series.push(dotSeries('2-4', 4, eT24, eY24, 'circle', 20, '#6b9fd8', '#4070be'));
series.push(dotSeries('1-4', 4, eT14, eY14, 'rect', 17, '#ee5a6e', '#c21d2f'));
series.push(dotSeries('1-2', 5, fT12, fY12, 'circle', 20, '#6b9fd8', '#4070be'));
series.push(dotSeries('1-3', 5, fT13, fY13, 'rect', 17, '#ee5a6e', '#c21d2f'));
series.push(dotSeries('2-3', 5, fT23, fY23, 'triangle', 21, '#fcb35f', '#f6913a'));

const legendBase = {
  orient: 'vertical', itemWidth: 22, itemHeight: 22, itemGap: 22, selectedMode: false,
  textStyle: { fontFamily: FONT, fontSize: 45, color: '#000', lineHeight: 48, padding: [0, 0, 0, 14] }
};

const option = {
  animation: false,
  backgroundColor: '#fff',
  textStyle: { fontFamily: FONT },
  grid: [
    mkGrid(194, 109, 1193, 691),
    mkGrid(188, 1049, 1199, 692),
    mkGrid(1667, 94, 983, 707),
    mkGrid(1667, 1049, 956, 693),
    mkGrid(2911, 94, 582, 692),
    mkGrid(2904, 1049, 589, 693)
  ],
  xAxis: [
    mkAxis(0, dRange, dTicks, dTicks, 14),
    mkAxis(1, dRange, dTicks, dTicks, 14),
    mkAxis(2, tRange, tTicks, tTicks, 20),
    mkAxis(3, tRange, tTicks, tTicks, 20),
    mkAxis(4, eRange, heTicks, heTicks, 20),
    mkAxis(5, fRange, heTicks, heTicks, 20)
  ],
  yAxis: [
    mkAxis(0, [-1, 3], kTicks, kTicks, 16),
    mkAxis(1, [-1, 3], kTicks, kTicks, 16),
    mkAxis(2, [-3, 3], cTicks, cTicks, 20),
    mkAxis(3, [-400, 400], dOhmTicks, dOhmTicks, 18),
    mkAxis(4, [-0.1, 1.1], hYTicks, hYLabels, 20),
    mkAxis(5, [-0.1, 1.1], hYTicks, hYLabels, 20)
  ],
  legend: [
    Object.assign({}, legendBase, { left: 2956, top: 380, data: [{ name: '2-4', icon: 'circle' }, { name: '1-4', icon: 'rect' }] }),
    Object.assign({}, legendBase, { left: 2950, top: 1300, data: [{ name: '1-2', icon: 'circle' }, { name: '1-3', icon: 'rect' }, { name: '2-3', icon: 'triangle' }] })
  ],
  series,
  graphic: [
    letter(63, 64, 'a'), letter(68, 1003, 'b'), letter(1510, 64, 'c'),
    letter(1512, 1003, 'd'), letter(2767, 62, 'e'), letter(2762, 1003, 'f'),
    yTitle(77, 597, '{i|δρ}{s|xy, 1 − 4}{n| (kΩ)}'),
    yTitle(77, 1525, '{i|ρ}{s|xx, 1 − 3}{n| (kΩ)}'),
    yTitle(1546, 582, '{i|δρ}{s|xy, 1 − 4}{n| (%)}', 50),
    yTitle(1514, 1516, '{i|ρ}{s|xx, 1 − 3}{n| (Ω)}', 24),
    yTitle(2781, 554, '{n|−}{i|ρ}{s|xy}{n| (}{i|h}{n|/}{i|e}{p|2}{n|)}'),
    yTitle(2781, 1501, '{i|ρ}{s|xx}{n| (}{i|h}{n|/}{i|e}{p|2}{n|)}'),
    xTitle(788, 909, '{i|D}{n| (mV nm}{p|−1}{n|)}'),
    xTitle(788, 1848, '{i|D}{n| (mV nm}{p|−1}{n|)}'),
    xTitle(2159, 903, '{i|T}{n| (mK)}'),
    xTitle(2147, 1842, '{i|T}{n| (mK)}'),
    xTitle(3203, 888, '{i|T}{n| (mK)}'),
    xTitle(3200, 1842, '{i|T}{n| (mK)}')
  ].concat(tempArrow(277, 530, 742, 566, 706), tempArrow(270, 1472, 1681, 1507, 1647))
};

chart.setOption(option);
</script>
</body>
</html>
